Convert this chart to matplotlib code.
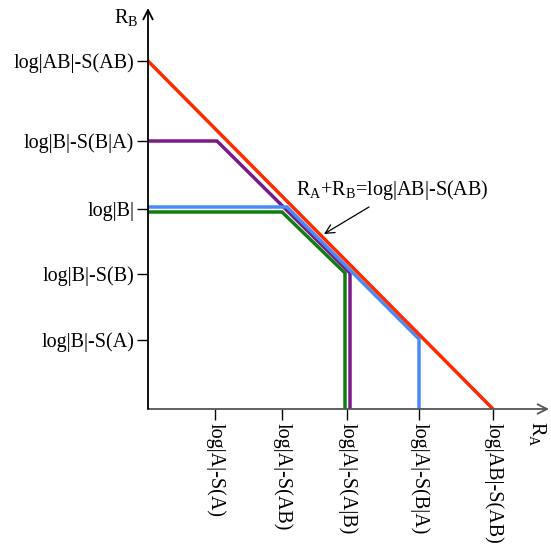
import matplotlib.pyplot as plt

plt.rcParams["font.family"] = "Liberation Serif"
plt.rcParams["font.size"] = 14.5

# rate-region corners (R_A, R_B)
red_x = [0, 345]
red_y = [348, 0]
purple_x = [0, 69, 202, 202]
purple_y = [268, 268, 136, 0]
blue_x = [0, 139, 271, 271]
blue_y = [202, 202, 70, 0]
green_x = [0, 134, 197, 197]
green_y = [197, 197, 136, 0]

xtick_vals = [67, 134, 199, 271, 345]
xtick_labels = ["log|A|-S(A)", "log|A|-S(AB)", "log|A|-S(A|B)",
                "log|A|-S(B|A)", "log|AB|-S(AB)"]
ytick_vals = [348, 268, 200, 135, 69]
ytick_labels = ["log|AB|-S(AB)", "log|B|-S(B|A)", "log|B|",
                "log|B|-S(B)", "log|B|-S(A)"]

fig = plt.figure(figsize=(5.51, 5.46), dpi=100)
ax = fig.add_axes([148 / 551, 137 / 546, 401 / 551, 401 / 546])
ax.set_xlim(0, 401)
ax.set_ylim(0, 401)

ax.plot(green_x, green_y, color="#0f7d12", lw=2.5, solid_joinstyle="miter")
ax.plot(purple_x, purple_y, color="#7a1a87", lw=2.5, solid_joinstyle="miter")
ax.plot(blue_x, blue_y, color="#4a8cf7", lw=2.5, solid_joinstyle="miter")
ax.plot(red_x, red_y, color="#ff2a00", lw=2.5)

for s in ["top", "right", "left", "bottom"]:
    ax.spines[s].set_visible(False)

# axes with open arrow heads
ax.annotate("", xy=(401, 0), xytext=(0, 0),
            arrowprops=dict(arrowstyle="->", color="#555555", lw=1.3,
                            shrinkA=0, shrinkB=0, mutation_scale=17))
ax.annotate("", xy=(0, 401), xytext=(0, 0),
            arrowprops=dict(arrowstyle="->", color="black", lw=1.3,
                            shrinkA=0, shrinkB=0, mutation_scale=17))

ax.set_xticks(xtick_vals, xtick_labels, rotation=270)
ax.set_yticks(ytick_vals, ytick_labels)
ax.tick_params(axis="both", direction="out", length=8, width=1, pad=2,
               labelsize=14.5)

ax.text(-22, 391, r"R$_{\mathregular{B}}$", ha="center", va="center")
ax.text(389, -25, r"R$_{\mathregular{A}}$", ha="center", va="center",
        rotation=270)

ax.text(244, 219, r"R$_{\mathregular{A}}$+R$_{\mathregular{B}}$=log|AB|-S(AB)",
        ha="center", va="center")
ax.annotate("", xy=(176, 175), xytext=(221, 202),
            arrowprops=dict(arrowstyle="->", color="black", lw=0.9,
                            shrinkA=0, shrinkB=0, mutation_scale=16))

fig.savefig("out.png", dpi=100)
